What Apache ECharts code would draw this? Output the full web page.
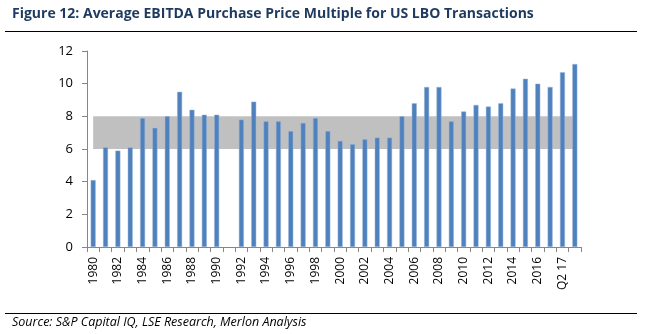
<!DOCTYPE html>
<html>
<head>
<meta charset="utf-8">
<script src="https://cdn.jsdelivr.net/npm/echarts@6/dist/echarts.min.js"></script>
<style>
  html, body { margin: 0; padding: 0; background: #fff; }
  #main { width: 647px; height: 334px; }
</style>
</head>
<body>
<div id="main"></div>
<script>
// categories: 1980..2017 then quarter points (1991 has no value)
var years = ['1980','1981','1982','1983','1984','1985','1986','1987','1988','1989',
             '1990','1991','1992','1993','1994','1995','1996','1997','1998','1999',
             '2000','2001','2002','2003','2004','2005','2006','2007','2008','2009',
             '2010','2011','2012','2013','2014','2015','2016','2017','Q2 17','Q3 17'];

var multiples = [4.1, 6.1, 5.9, 6.1, 7.9, 7.3, 8.0, 9.5, 8.4, 8.1,
                 8.1, null, 7.8, 8.9, 7.7, 7.7, 7.1, 7.6, 7.9, 7.1,
                 6.5, 6.3, 6.6, 6.7, 6.7, 8.0, 8.8, 9.8, 9.8, 7.7,
                 8.3, 8.7, 8.6, 8.8, 9.7, 10.3, 10.0, 9.8, 10.7, 11.2];

// shaded "normal" range
var bandLow = 6;
var bandHigh = 8;

function main() {
    var myChart = echarts.init(document.getElementById('main'));

    var option = {
        animation: false,
        grid: { left: 87, right: 66, top: 51, bottom: 87 },
        graphic: [
            {
                type: 'text', left: 12, top: 7,
                style: {
                    text: 'Figure 12: Average EBITDA Purchase Price Multiple for US LBO Transactions',
                    fill: '#1f3a5f', font: 'bold 14px "Open Sans"'
                }
            },
            { type: 'line', shape: { x1: 5, y1: 31.5, x2: 637, y2: 31.5 }, style: { stroke: '#000', lineWidth: 1 } },
            { type: 'line', shape: { x1: 5, y1: 313.5, x2: 637, y2: 313.5 }, style: { stroke: '#000', lineWidth: 1 } },
            {
                type: 'text', left: 12, top: 316,
                style: {
                    text: 'Source: S&P Capital IQ, LSE Research, Merlon Analysis',
                    fill: '#000', font: 'italic 12.5px "Open Sans"'
                }
            }
        ],
        xAxis: {
            type: 'category',
            data: years,
            axisLine: { lineStyle: { color: '#868686' } },
            axisTick: { show: true, alignWithLabel: false, interval: 0, length: 5, lineStyle: { color: '#868686' } },
            axisLabel: {
                interval: 1, rotate: 90, margin: 10,
                color: '#000', fontSize: 12, fontFamily: 'Open Sans'
            }
        },
        yAxis: {
            type: 'value',
            min: 0, max: 12, interval: 2,
            splitLine: { show: false },
            axisLine: { show: true, lineStyle: { color: '#868686' } },
            axisTick: { show: true, length: 5, lineStyle: { color: '#868686' } },
            axisLabel: { margin: 14, color: '#000', fontSize: 13, fontFamily: 'Open Sans' }
        },
        series: [
            {
                type: 'line',
                data: [],
                z: 1,
                markArea: {
                    silent: true,
                    itemStyle: { color: '#c0c0c0' },
                    data: [[
                        { xAxis: years[0], yAxis: bandLow },
                        { xAxis: years[years.length - 1], yAxis: bandHigh }
                    ]]
                }
            },
            {
                type: 'bar',
                data: multiples,
                barWidth: 5,
                z: 3,
                itemStyle: { color: '#4f81bd', borderColor: '#9bb6dc', borderWidth: 0.5 }
            }
        ]
    };

    myChart.setOption(option);
}

main();
</script>
</body>
</html>
